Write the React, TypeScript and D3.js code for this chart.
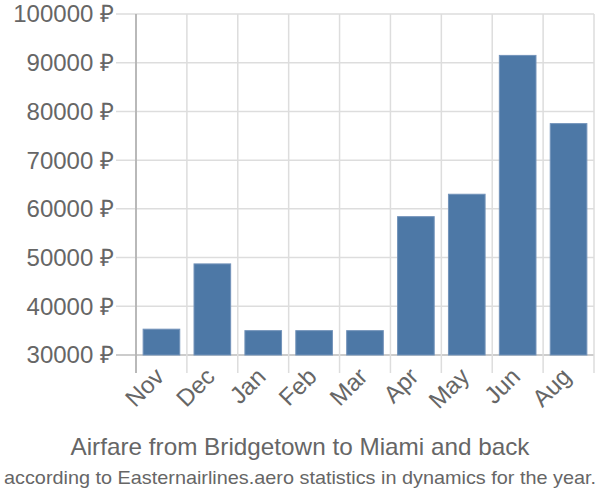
import React from "react";
import * as d3 from "d3";

const categories = ["Nov", "Dec", "Jan", "Feb", "Mar", "Apr", "May", "Jun", "Aug"];
const values = [35300, 48700, 35000, 35000, 35000, 58400, 63000, 91500, 77500];
const yTicks = [30000, 40000, 50000, 60000, 70000, 80000, 90000, 100000];
const title = "Airfare from Bridgetown to Miami and back";
const subtitle = "according to Easternairlines.aero statistics in dynamics for the year.";

export default function App() {
  const W = 600, H = 500;
  const left = 136, right = 594, top = 14, bottom = 355;
  const x = d3.scaleBand<string>().domain(categories).range([left, right]).paddingInner(0.28).paddingOuter(0.14);
  const y = d3.scaleLinear().domain([30000, 100000]).range([bottom, top]);
  const step = x.step();
  const font = "'Liberation Sans', Arial, sans-serif";
  const textColor = "#666";
  return (
    <svg width={W} height={H} style={{ position: "absolute", left: 0, top: 0 }} fontFamily={font}>
      {yTicks.map((t) => (
        <g key={t}>
          <line x1={116} x2={right} y1={y(t)} y2={y(t)} stroke={t === 30000 ? "#bbb" : "#ddd"} strokeWidth={1.5} />
          <text x={114} y={y(t)} dy="0.35em" textAnchor="end" fontSize={24} fill={textColor}>
            {t} ₽
          </text>
        </g>
      ))}
      {categories.map((c, i) => (
        <line key={c} x1={left + i * step} x2={left + i * step} y1={top} y2={373} stroke="#ddd" strokeWidth={1.5} />
      ))}
      <line x1={right} x2={right} y1={top} y2={373} stroke="#ddd" strokeWidth={1.5} />
      <line x1={left} x2={left} y1={top} y2={373} stroke="#aaa" strokeWidth={1.5} />
      {categories.map((c, i) => (
        <rect
          key={c}
          x={x(c)}
          y={y(values[i])}
          width={x.bandwidth()}
          height={bottom - y(values[i])}
          fill="#4d78a6"
          stroke="#7393ba"
          strokeWidth={1}
        />
      ))}
      {categories.map((c) => (
        <text
          key={c}
          transform={`translate(${(x(c) as number) + x.bandwidth() / 2 + 4},${378}) rotate(-45)`}
          textAnchor="end"
          fontSize={24}
          fill={textColor}
        >
          {c}
        </text>
      ))}
      <text x={300} y={455} textAnchor="middle" fontSize={24} fill={textColor} textLength={459} lengthAdjust="spacingAndGlyphs">
        {title}
      </text>
      <text x={300} y={484} textAnchor="middle" fontSize={19} fill={textColor} textLength={592} lengthAdjust="spacingAndGlyphs">
        {subtitle}
      </text>
    </svg>
  );
}
